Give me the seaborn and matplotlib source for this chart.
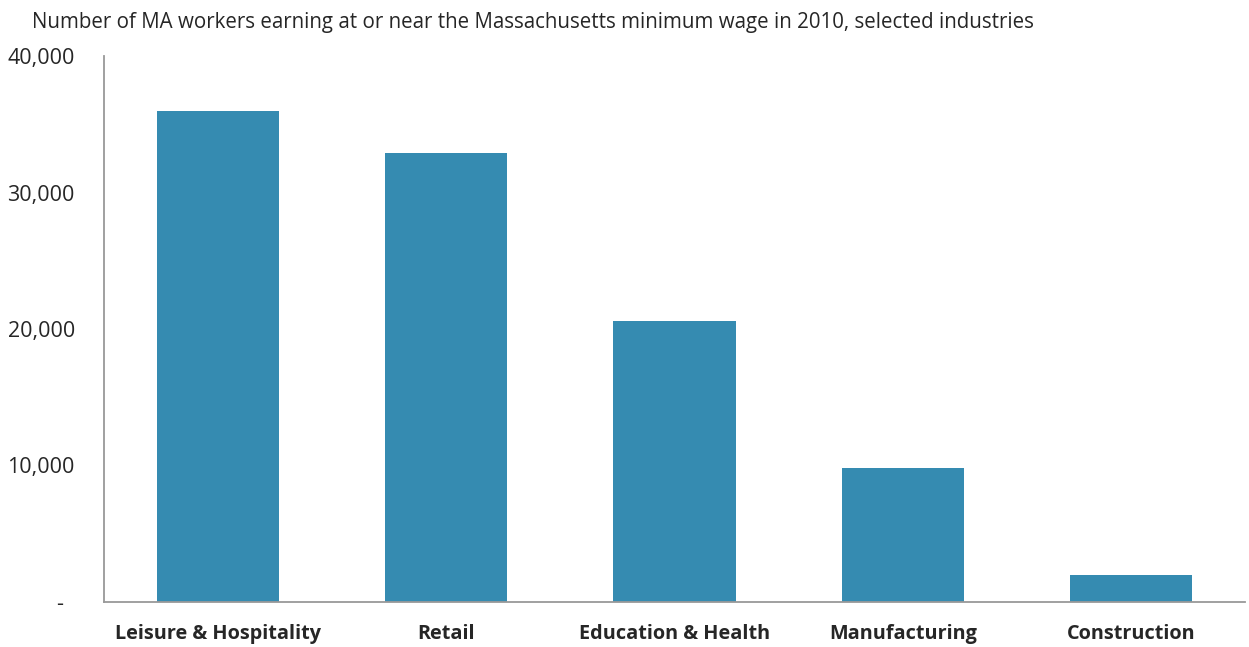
import numpy as np
import pandas as pd
import seaborn as sns
import matplotlib.pyplot as plt
from matplotlib.ticker import FixedLocator

# chart data
industries = ['Leisure & Hospitality', 'Retail', 'Education & Health', 'Manufacturing', 'Construction']
workers = [36000, 32900, 20550, 9850, 1950]
y_ticks = [0, 10000, 20000, 30000, 40000]
y_labels = ['-  ', '10,000', '20,000', '30,000', '40,000']

df = pd.DataFrame({'industry': industries, 'workers': workers})

sns.set_style('white')
plt.rcParams['font.family'] = ['Open Sans', 'DejaVu Sans']

fig = plt.figure(figsize=(12.49, 6.47), dpi=100)
ax = fig.add_axes([0.0833, 0.0696, 0.9135, 0.8438])

sns.barplot(data=df, x='industry', y='workers', color='#358bb1', saturation=1,
            width=0.535, linewidth=0, ax=ax)

ax.set_xlim(-0.5, len(industries) - 0.5)
ax.set_ylim(0, 40000)
ax.set_yticks(y_ticks)
ax.set_yticklabels(y_labels, fontsize=15.5)
ax.tick_params(axis='y', length=0, pad=21)
ax.tick_params(axis='x', which='major', length=0, pad=16)
ax.set_xticks(range(len(industries)))
ax.set_xticklabels(industries, fontsize=14.3, fontweight='bold')
ax.xaxis.set_minor_locator(FixedLocator(np.arange(-0.5, len(industries), 1.0)))
ax.tick_params(axis='x', which='minor', length=6, width=1.3, color='#999999', direction='out')

for side in ['top', 'right']:
    ax.spines[side].set_visible(False)
for side in ['left', 'bottom']:
    ax.spines[side].set_color('#999999')
    ax.spines[side].set_linewidth(1.3)

ax.set_xlabel('')
ax.set_ylabel('')

fig.text(0.0256, 0.957, 'Number of MA workers earning at or near the Massachusetts minimum wage in 2010, selected industries',
         fontsize=14.8, ha='left', va='baseline')

fig.savefig('out.png', dpi=100)
